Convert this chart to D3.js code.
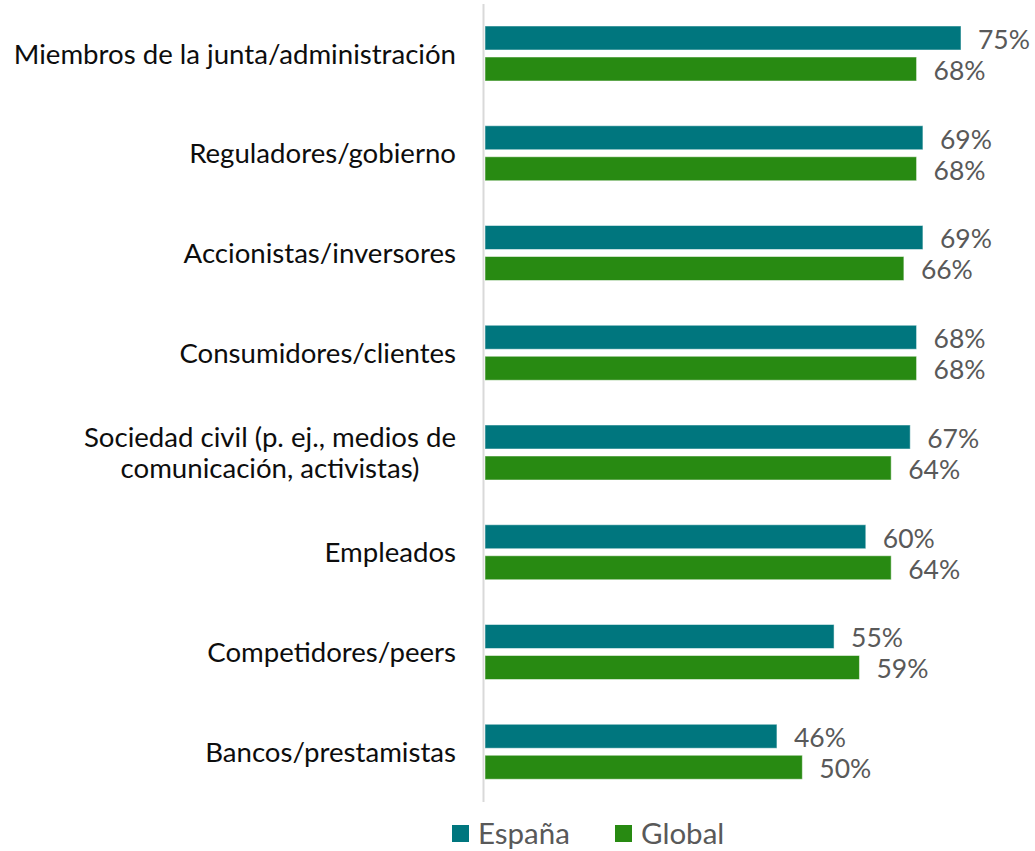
<!DOCTYPE html>
<html lang="es">
<head>
    <meta charset="UTF-8">
    <title>Grupos de interés</title>
    <script src="https://d3js.org/d3.v7.min.js"></script>
    <style>
        body { margin: 0; background: #fff; }
        svg { display: block; }
        .cat { font-family: Lato, "Open Sans", sans-serif; font-size: 27.6px; fill: #0d0d0d; }
        .val { font-family: Lato, "Open Sans", sans-serif; font-size: 26.5px; fill: #595959; }
        .leg { font-family: Lato, "Open Sans", sans-serif; font-size: 29.5px; fill: #595959; }
    </style>
</head>
<body>
<svg id="chart"></svg>
<script>
    // data
    const categories = [
        "Miembros de la junta/administración",
        "Reguladores/gobierno",
        "Accionistas/inversores",
        "Consumidores/clientes",
        "Sociedad civil (p. ej., medios de\ncomunicación, activistas)",
        "Empleados",
        "Competidores/peers",
        "Bancos/prestamistas"
    ];
    const seriesNames = ["España", "Global"];
    const espana = [75, 69, 69, 68, 67, 60, 55, 46];
    const global = [68, 68, 66, 68, 64, 64, 59, 50];
    const colors = ["#00767e", "#288a12"];

    const width = 1035, height = 851;
    const svg = d3.select("#chart").attr("width", width).attr("height", height);

    const rows = categories.map((c, i) => ({ cat: c, values: [espana[i], global[i]] }));

    const y0 = d3.scaleBand().domain(categories).range([4, 802]);
    const y1 = d3.scaleBand().domain(seriesNames).range([22, 77]).paddingInner(0.226);
    const x = d3.scaleLinear().domain([0, 75]).range([485, 961]);
    const color = d3.scaleOrdinal().domain(seriesNames).range(colors);

    // vertical axis line
    svg.append("line")
        .attr("x1", 483.5).attr("x2", 483.5)
        .attr("y1", y0.range()[0]).attr("y2", y0.range()[1])
        .attr("stroke", "#d9d9d9").attr("stroke-width", 2);

    const group = svg.selectAll(".grp")
        .data(rows)
        .enter().append("g")
        .attr("class", "grp")
        .attr("transform", d => `translate(0,${y0(d.cat)})`);

    const bars = group.selectAll(".bar")
        .data(d => d.values.map((v, j) => ({ name: seriesNames[j], value: v })))
        .enter();

    bars.append("rect")
        .attr("class", "bar")
        .attr("x", x(0))
        .attr("y", d => y1(d.name))
        .attr("width", d => x(d.value) - x(0))
        .attr("height", y1.bandwidth())
        .attr("fill", d => color(d.name))
        .attr("stroke", "#ffffff")
        .attr("stroke-opacity", 0.5)
        .attr("stroke-width", 1);

    bars.append("text")
        .attr("class", "val")
        .attr("x", d => x(d.value) + 17)
        .attr("y", d => y1(d.name) + y1.bandwidth() / 2 + 1.5)
        .attr("dy", "0.35em")
        .text(d => d.value + "%");

    // category labels: lines centred on each other, block right-aligned
    group.each(function(d) {
        const lines = d.cat.split("\n");
        const t = d3.select(this).append("text").attr("class", "cat").attr("text-anchor", "middle");
        const lh = 31;
        const top = y0.bandwidth() / 2 - (lines.length - 1) * lh / 2;
        lines.forEach((ln, k) => {
            t.append("tspan").attr("x", 0).attr("y", top + k * lh).attr("dy", "0.35em").text(ln);
        });
        const w = t.node().getBBox().width;
        t.attr("transform", `translate(${456 - w / 2},0)`);
    });

    // legend
    const legend = svg.append("g").attr("transform", "translate(452,825)");
    const legX = [0, 163];
    seriesNames.forEach((s, i) => {
        const g = legend.append("g").attr("transform", `translate(${legX[i]},0)`);
        g.append("rect").attr("width", 17).attr("height", 17).attr("fill", color(s));
        g.append("text").attr("class", "leg").attr("x", 26).attr("y", 19).text(s);
    });
</script>
</body>
</html>
